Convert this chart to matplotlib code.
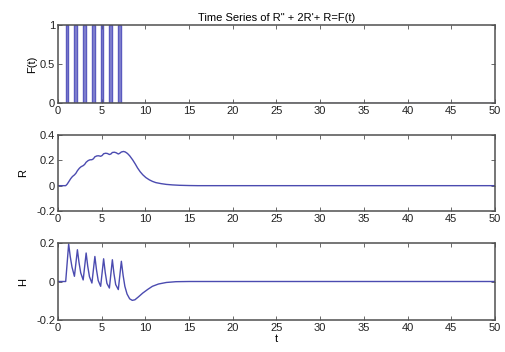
import matplotlib
matplotlib.use('Agg')
import matplotlib.pyplot as plt

plt.rcParams['font.family'] = ['Liberation Sans', 'DejaVu Sans']

# pulse train F(t): on / off times, height 1
pulse_on = [0.88, 1.88, 2.88, 3.88, 4.88, 5.88, 6.9]
pulse_off = [1.2, 2.2, 3.2, 4.2, 5.2, 6.2, 7.25]

# R(t)
r_t = [0, 0.88, 1.05, 1.22, 1.45, 1.65, 1.88, 2.05, 2.22, 2.45, 2.65, 2.88,
       3.05, 3.22, 3.45, 3.65, 3.88, 4.05, 4.22, 4.45, 4.65, 4.88, 5.05, 5.22,
       5.45, 5.65, 5.88, 6.05, 6.22, 6.45, 6.65, 6.9, 7.05, 7.25, 7.5, 7.7,
       7.95, 8.2, 8.55, 8.85, 9.1, 9.4, 9.7, 10.05, 10.45, 10.8, 11.2, 11.8,
       12.4, 13.1, 13.9, 15.0, 16.0, 50.0]
r_v = [0, 0, 0.012, 0.03, 0.055, 0.072, 0.085, 0.098, 0.118, 0.138, 0.15, 0.158,
       0.168, 0.185, 0.198, 0.204, 0.205, 0.212, 0.228, 0.235, 0.236, 0.232,
       0.238, 0.252, 0.256, 0.254, 0.246, 0.25, 0.262, 0.264, 0.26, 0.25, 0.255,
       0.266, 0.27, 0.266, 0.254, 0.236, 0.203, 0.17, 0.14, 0.11, 0.086, 0.064,
       0.046, 0.034, 0.024, 0.016, 0.01, 0.006, 0.003, 0.001, 0, 0]

# H(t)
h_t = [0, 0.88, 1.22, 1.4, 1.6, 1.88, 2.22, 2.4, 2.6, 2.88, 3.22, 3.4, 3.6,
       3.88, 4.22, 4.4, 4.6, 4.88, 5.22, 5.4, 5.6, 5.88, 6.22, 6.4, 6.6, 6.9,
       7.25, 7.45, 7.65, 7.9, 8.2, 8.5, 8.8, 9.2, 9.7, 10.3, 10.8, 11.5, 12.4,
       13.5, 15.0, 50.0]
h_v = [0, 0, 0.195, 0.13, 0.075, 0.027, 0.165, 0.1, 0.045, 0.008, 0.148, 0.08,
       0.025, -0.008, 0.13, 0.062, 0.005, -0.025, 0.118, 0.048, -0.01, -0.034,
       0.113, 0.042, -0.016, -0.042, 0.105, 0.032, -0.025, -0.065, -0.09,
       -0.098, -0.095, -0.08, -0.06, -0.04, -0.025, -0.013, -0.005, -0.001, 0, 0]

# build the step line for F(t)
f_t = [0]
f_v = [0]
for a, b in zip(pulse_on, pulse_off):
    f_t += [a, a, b, b]
    f_v += [0, 1, 1, 0]
f_t.append(50)
f_v.append(0)

line_col = '#4b4bb0'
frame_col = '#505050'

fig = plt.figure(figsize=(5.06, 3.52), dpi=100)
W, H = 506, 352
boxes = [(25, 103), (135, 211), (243, 320)]
axs = []
for top, bot in boxes:
    ax = fig.add_axes([58 / W, 1 - bot / H, 437 / W, (bot - top) / H])
    axs.append(ax)

axs[0].fill_between(f_t, f_v, 0, color='#8585d0', lw=0)
axs[0].plot(f_t, f_v, color='#5a5abf', lw=1.0)
axs[0].set_ylim(0, 1)
axs[0].set_yticks([0, 0.5, 1])
axs[0].set_yticklabels(['0', '0.5', '1'])
axs[0].set_ylabel('F(t)', labelpad=2)
axs[0].set_title('Time Series of R" + 2R\'+ R=F(t)', fontsize=8, pad=3)

axs[1].plot(r_t, r_v, color=line_col, lw=1)
axs[1].set_ylim(-0.2, 0.4)
axs[1].set_yticks([-0.2, 0, 0.2, 0.4])
axs[1].set_yticklabels(['-0.2', '0', '0.2', '0.4'])
axs[1].set_ylabel('R', labelpad=6)

axs[2].plot(h_t, h_v, color=line_col, lw=1)
axs[2].set_ylim(-0.2, 0.2)
axs[2].set_yticks([-0.2, 0, 0.2])
axs[2].set_yticklabels(['-0.2', '0', '0.2'])
axs[2].set_ylabel('H', labelpad=6)
axs[2].set_xlabel('t', labelpad=1)

for ax in axs:
    ax.set_xlim(0, 50)
    ax.set_xticks(range(0, 51, 5))
    ax.tick_params(direction='in', length=3, width=0.6, labelsize=8,
                   top=True, right=True, colors=frame_col, labelcolor='#222222',
                   pad=2)
    for s in ax.spines.values():
        s.set_color(frame_col)
        s.set_linewidth(1.1)
    ax.yaxis.label.set_size(8)
    ax.xaxis.label.set_size(8)

fig.savefig('out.png', dpi=100)
